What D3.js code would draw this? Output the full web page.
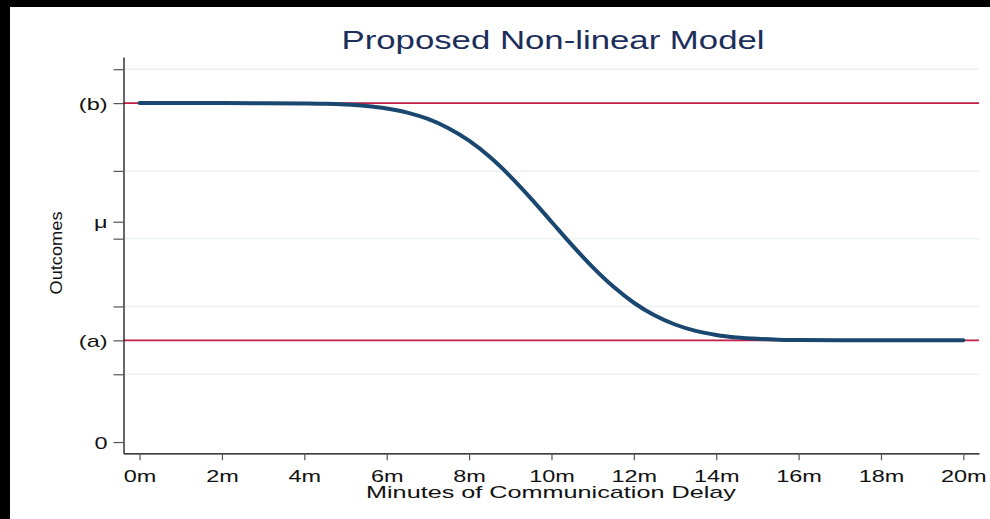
<!DOCTYPE html>
<html><head><meta charset="utf-8">
<script src="https://cdn.jsdelivr.net/npm/d3@7"></script>
<style>html,body{margin:0;padding:0;background:#fff;overflow:hidden;} svg{display:block;}</style>
</head><body>
<script>
// ---- data ----
const minutes = [0,1,2,3,4,4.5,5,5.5,6,6.5,7,7.5,8,8.5,9,9.5,10,10.5,11,11.5,12,12.5,13,13.5,14,14.5,15,15.5,16,17,18,19,20];
const outcome = [5.00,5.00,5.00,4.999,4.995,4.99,4.978,4.957,4.92,4.86,4.766,4.63,4.445,4.207,3.92,3.595,3.25,2.905,2.58,2.293,2.055,1.87,1.734,1.64,1.58,1.543,1.522,1.51,1.505,1.501,1.50,1.50,1.50];
const xTicks = [0,2,4,6,8,10,12,14,16,18,20];
const xTickLabels = ["0m","2m","4m","6m","8m","10m","12m","14m","16m","18m","20m"];
const yTicks = [0,1,1.5,2,3,3.25,4,5,5.5];
const yTickLabels = ["0","","(a)","","","μ","","(b)",""];
const yGrid = [1,2,3,4,5.5];
const refLines = [1.5,5];
const titleText = "Proposed Non-linear Model";
const xTitle = "Minutes of Communication Delay";
const yTitle = "Outcomes";

const W = 990, H = 519;
const svg = d3.select("body").append("svg").attr("width",W).attr("height",H);
svg.append("rect").attr("width",W).attr("height",H).attr("fill","#fff");
// black frame strips on the left and top only
svg.append("rect").attr("x",0).attr("y",0).attr("width",10).attr("height",H).attr("fill","#000");
svg.append("rect").attr("x",0).attr("y",0).attr("width",W).attr("height",7).attr("fill","#000");

const x = d3.scaleLinear().domain([-0.39,20.38]).range([123.5,979]);
const y = d3.scaleLinear().domain([-0.166,5.68]).range([453.3,57]);
const font = "'Liberation Sans', Arial, Helvetica, sans-serif";
const SX = 1.38;
const FS = 17;

// grid
svg.append("g").selectAll("line").data(yGrid).join("line")
  .attr("x1",x.range()[0]).attr("x2",x.range()[1])
  .attr("y1",d=>y(d)).attr("y2",d=>y(d))
  .attr("stroke","#eaf1f3").attr("stroke-width",1.5);

// reference lines
svg.append("g").selectAll("line").data(refLines).join("line")
  .attr("x1",x.range()[0]).attr("x2",x.range()[1])
  .attr("y1",d=>y(d)).attr("y2",d=>y(d))
  .attr("stroke","#c41e45").attr("stroke-width",1.6);

// curve
const line = d3.line().x((d,i)=>x(minutes[i])).y(d=>y(d)).curve(d3.curveMonotoneX);
svg.append("path").datum(outcome).attr("d",line)
  .attr("fill","none").attr("stroke","#1a476f").attr("stroke-width",4).attr("stroke-linecap","round");

// y axis
const yAxis = svg.append("g").attr("transform",`translate(${x.range()[0]},0)`)
  .call(d3.axisLeft(y).tickValues(yTicks).tickSize(10).tickSizeOuter(0)
    .tickFormat((d,i)=>yTickLabels[i]));
yAxis.select(".domain").attr("stroke","#000").attr("stroke-width",1.2);
yAxis.selectAll(".tick line").attr("stroke","#555").attr("stroke-width",1.2);
yAxis.selectAll(".tick text").attr("x",-16/SX).attr("dy","0.36em")
  .attr("transform",`scale(${SX},1)`)
  .attr("font-family",font).attr("font-size",FS).attr("fill","#111");

// x axis
const xAxis = svg.append("g").attr("transform",`translate(0,${y.range()[0]})`)
  .call(d3.axisBottom(x).tickValues(xTicks).tickSize(7).tickSizeOuter(0)
    .tickFormat((d,i)=>xTickLabels[i]));
xAxis.select(".domain").attr("stroke","#000").attr("stroke-width",1.2);
xAxis.selectAll(".tick line").attr("stroke","#555").attr("stroke-width",1.2);
xAxis.selectAll(".tick text").attr("y",28.4).attr("dy",null)
  .attr("transform",`scale(${SX},1)`)
  .attr("font-family",font).attr("font-size",FS).attr("fill","#111");

// titles
svg.append("text").attr("x",553).attr("y",49).attr("text-anchor","middle")
  .attr("font-family",font).attr("font-size",26.5).attr("fill","#1c2e5a")
  .attr("textLength",423).attr("lengthAdjust","spacingAndGlyphs").text(titleText);
svg.append("text").attr("x",551).attr("y",497.5).attr("text-anchor","middle")
  .attr("font-family",font).attr("font-size",FS).attr("fill","#111")
  .attr("textLength",370).attr("lengthAdjust","spacingAndGlyphs").text(xTitle);
svg.append("text").attr("transform","translate(62,253) rotate(-90)").attr("text-anchor","middle")
  .attr("font-family",font).attr("font-size",FS).attr("fill","#111")
  .attr("textLength",83).attr("lengthAdjust","spacingAndGlyphs").text(yTitle);
</script>
</body></html>
